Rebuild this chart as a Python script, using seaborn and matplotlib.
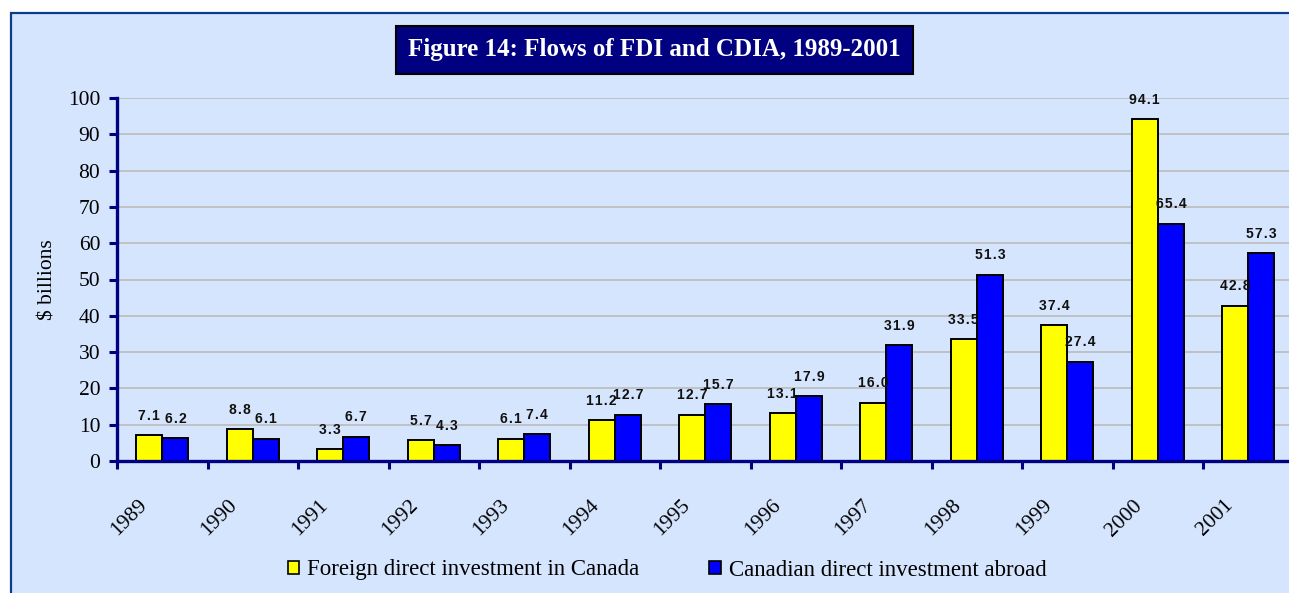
import numpy as np
import pandas as pd
import matplotlib
matplotlib.use("Agg")
import matplotlib.pyplot as plt
import matplotlib.transforms as mtransforms
from matplotlib.patches import Rectangle, Patch
import seaborn as sns

# ---- data ----
years = ["1989", "1990", "1991", "1992", "1993", "1994", "1995",
         "1996", "1997", "1998", "1999", "2000", "2001"]
fdi = [7.1, 8.8, 3.3, 5.7, 6.1, 11.2, 12.7, 13.1, 16.0, 33.5, 37.4, 94.1, 42.8]
cdia = [6.2, 6.1, 6.7, 4.3, 7.4, 12.7, 15.7, 17.9, 31.9, 51.3, 27.4, 65.4, 57.3]
series_names = ["Foreign direct investment in Canada", "Canadian direct investment abroad"]
y_ticks = [0, 10, 20, 30, 40, 50, 60, 70, 80, 90, 100]

df = pd.DataFrame({
    "year": years * 2,
    "value": fdi + cdia,
    "series": [series_names[0]] * len(years) + [series_names[1]] * len(years),
})

BG = "#D6E5FE"
NAVY = "#000080"
SERIF = ["Liberation Serif", "DejaVu Serif"]
SANS = ["Liberation Sans", "DejaVu Sans"]

sns.set_theme(style="white")
plt.rcParams["font.family"] = SERIF
plt.rcParams["text.color"] = "black"
plt.rcParams["axes.labelcolor"] = "black"
plt.rcParams["xtick.labelcolor"] = "black"
plt.rcParams["ytick.labelcolor"] = "black"

W, H = 1289, 593
fig = plt.figure(figsize=(W / 100, H / 100), dpi=100)
fig.patch.set_facecolor("white")

# outer frame of the chart area (runs off the right/bottom edges)
fig.patches.append(Rectangle((11 / W, -0.05), 1.1, (H - 13) / H + 0.05,
                             transform=fig.transFigure, facecolor=BG,
                             edgecolor="#0B3C8C", linewidth=1.6, zorder=-10))

ax = fig.add_axes([117 / W, (H - 461) / H, 1176.5 / W, 363 / H])
ax.set_facecolor("none")

sns.barplot(data=df, x="year", y="value", hue="series", order=years,
            hue_order=series_names, palette=["#FFFF00", "#0000FF"],
            width=0.58, edgecolor="black", linewidth=1.4, saturation=1,
            legend=False, ax=ax, zorder=3)

# value labels (spaced out digits like the original)
for cont in ax.containers:
    ax.bar_label(cont, fmt=lambda v: "\u200a".join(f"{v:.1f}"), padding=9,
                 fontsize=10, fontweight="bold", family=SANS, color="#111111")

ax.set_ylim(0, 100)
ax.set_yticks(y_ticks)
ax.set_xlim(-0.5, len(years) - 0.5)

# gridlines
ax.yaxis.grid(True, color="#BEBEBE", linewidth=1.3, zorder=0)
ax.set_axisbelow(True)

for s in ["top", "right"]:
    ax.spines[s].set_visible(False)
for s in ["left", "bottom"]:
    ax.spines[s].set_color(NAVY)
    ax.spines[s].set_linewidth(2.4)
    ax.spines[s].set_zorder(5)

ax.tick_params(axis="y", direction="out", length=6, width=2.2, color=NAVY,
               labelsize=15.5, pad=6, left=True)
ax.set_xticks(np.arange(-0.5, len(years), 1.0), minor=True)
ax.tick_params(axis="x", which="minor", direction="out", length=6, width=2.2,
               color=NAVY, bottom=True)
ax.tick_params(axis="x", which="major", length=0, labelsize=15.5, pad=30)

ax.set_xticks(range(len(years)))
ax.set_xticklabels(years, rotation=45, ha="right", va="center",
                   rotation_mode="anchor")
offset = mtransforms.ScaledTranslation(-18 / 100, 0, fig.dpi_scale_trans)
for lbl in ax.get_xticklabels():
    lbl.set_transform(lbl.get_transform() + offset)

ax.set_xlabel("")
ax.set_ylabel("\\$ billions", fontsize=15.5)
ax.yaxis.set_label_coords(-0.0505, 0.5)

# title box
fig.text(654.5 / W, 1 - 49.5 / H, "Figure 14: Flows of FDI and CDIA, 1989-2001",
         ha="center", va="center", color="white", fontsize=18, fontweight="bold",
         bbox=dict(boxstyle="square,pad=0.5", facecolor=NAVY, edgecolor="black",
                   linewidth=1.5))

# legend
handles = [Patch(facecolor=c, edgecolor="black", linewidth=1.2)
           for c in ["#FFFF00", "#0000FF"]]
fig.legend(handles, series_names, loc="center", bbox_to_anchor=(667 / W, 1 - 570 / H),
           ncol=2, frameon=False, fontsize=16.5, handlelength=0.5, handleheight=0.5,
           handletextpad=0.35, columnspacing=3.05)

fig.savefig("out.png", dpi=100, facecolor=fig.get_facecolor())
